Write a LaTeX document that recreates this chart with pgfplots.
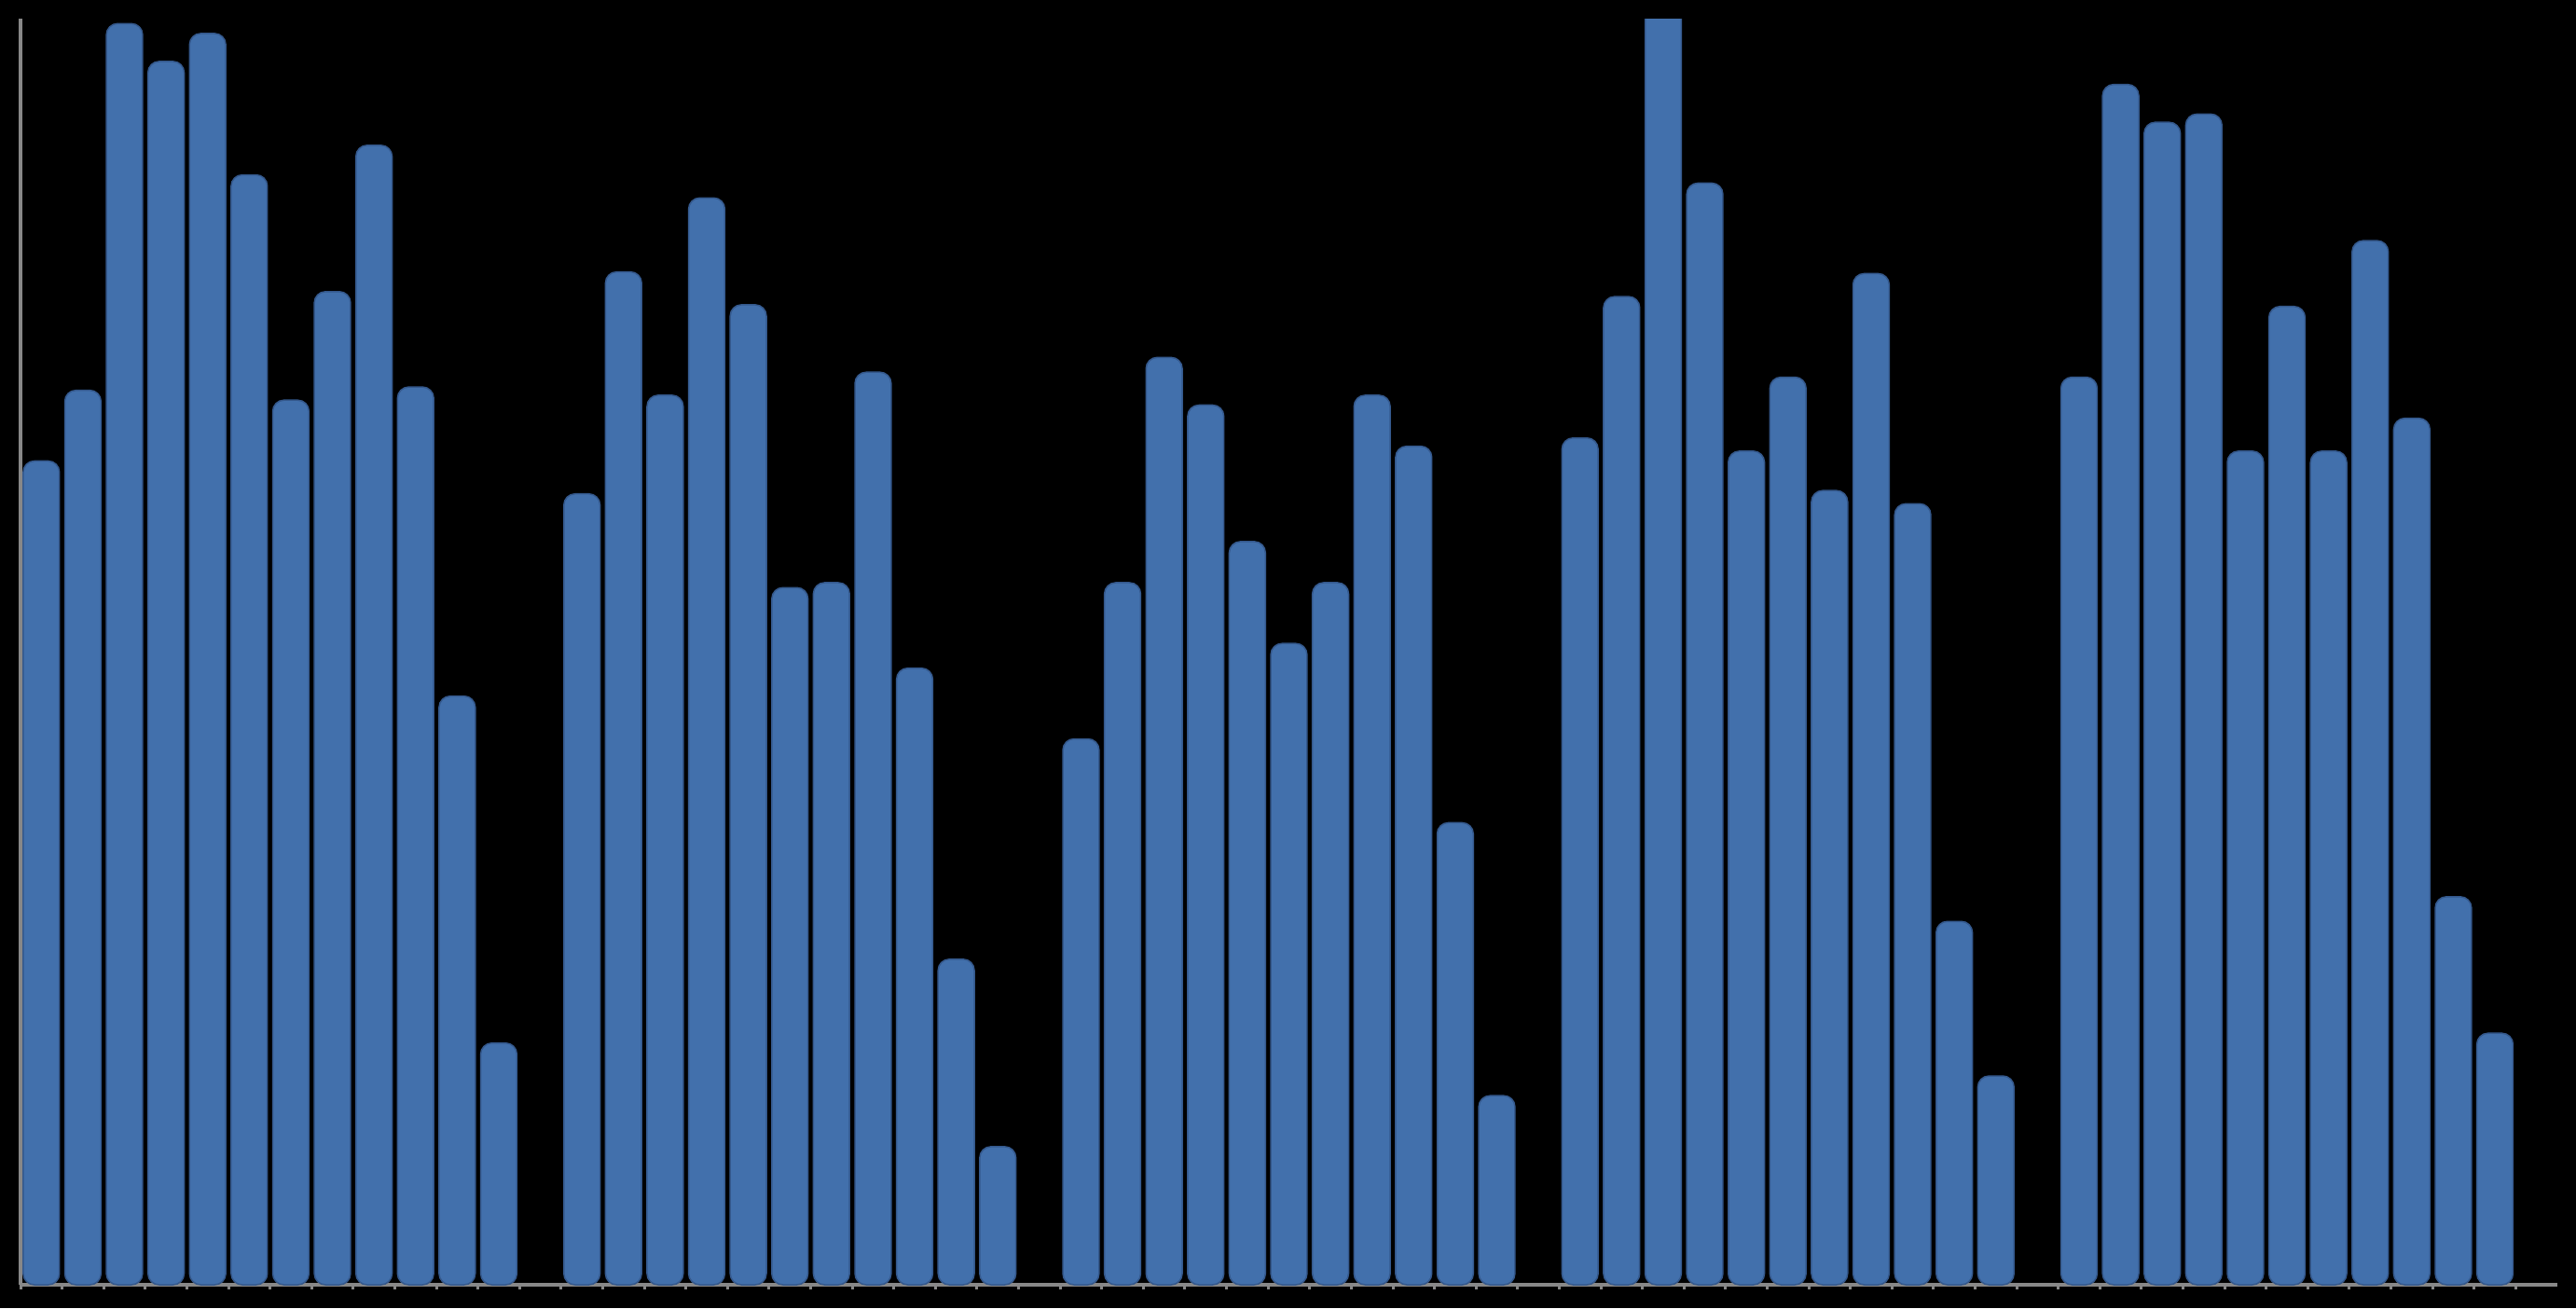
\documentclass[border=0pt]{standalone}
\usepackage{pgfplots}
\pgfplotsset{compat=1.18}
\definecolor{barblue}{RGB}{66,112,172}
\definecolor{baredge}{RGB}{52,88,140}
\definecolor{axgray}{RGB}{136,136,136}
\begin{document}
\begin{tikzpicture}
\path[use as bounding box] (0,0) rectangle (276.3pt,140.3pt);
\fill[black] (0,0) rectangle (276.3pt,140.3pt);
\begin{axis}[
  at={(2.2pt,2.5pt)}, anchor=south west,
  scale only axis,
  width=272.1pt, height=135.8pt,
  xmin=-0.5, xmax=60.5, ymin=0, ymax=770,
  axis x line=bottom, axis y line=left,
  axis line style={axgray, line width=0.35pt, -},
  xtick={-0.5,0.5,...,59.5}, xticklabels={},
  ytick=\empty,
  major tick length=0.5pt,
  tick style={axgray, line width=0.3pt},
  tick align=center,
  ybar, bar width=0.87, bar shift=0pt,
  clip=true,
]
\addplot[fill=barblue, draw=baredge, line width=0.15pt, rounded corners=1.2pt] coordinates {
(0,501) (1,544) (2,767) (3,744) (4,761) (5,675) (6,538) (7,604) (8,693) (9,546) (10,358) (11,147)
(13,481) (14,616) (15,541) (16,661) (17,596) (18,424) (19,427) (20,555) (21,375) (22,198) (23,84)
(25,332) (26,427) (27,564) (28,535) (29,452) (30,390) (31,427) (32,541) (33,510) (34,281) (35,115)
(37,515) (38,601) (39,790) (40,670) (41,507) (42,552) (43,483) (44,615) (45,475) (46,221) (47,127)
(49,552) (50,730) (51,707) (52,712) (53,507) (54,595) (55,507) (56,635) (57,527) (58,236) (59,153)
};
\end{axis}
\end{tikzpicture}
\end{document}
